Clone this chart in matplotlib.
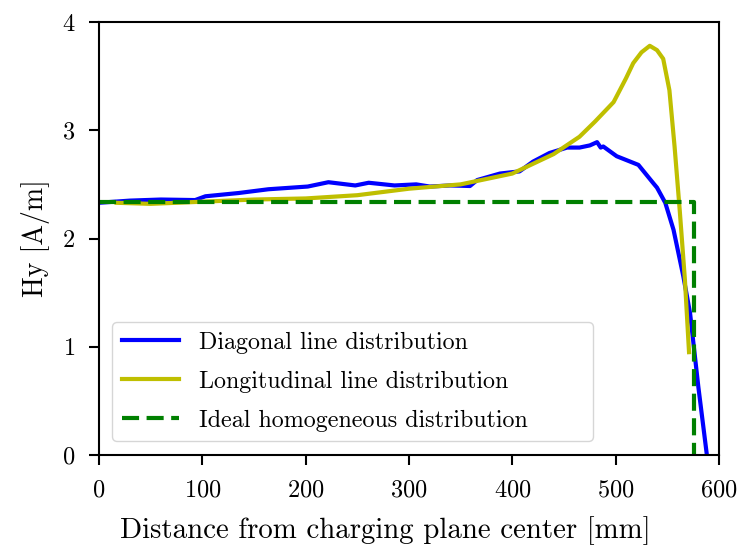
import numpy as np
import matplotlib
matplotlib.use("Agg")
import matplotlib.pyplot as plt

# Diagonal line distribution (blue)
diag_x = [0, 30, 60, 93, 103, 135, 164, 202, 222, 248, 261, 286, 307, 320, 340, 359,
          366, 388, 407, 420, 436, 453, 465, 475, 482, 485.5, 488, 501, 522, 536.5,
          540, 548, 556, 565.5, 572, 580, 588]
diag_y = [2.33, 2.35, 2.36, 2.355, 2.39, 2.42, 2.455, 2.48, 2.52, 2.49, 2.515, 2.49,
          2.50, 2.48, 2.49, 2.485, 2.54, 2.60, 2.62, 2.71, 2.79, 2.84, 2.84, 2.86,
          2.89, 2.84, 2.85, 2.76, 2.68, 2.51, 2.47, 2.33, 2.08, 1.65, 1.31, 0.63, 0.02]

# Longitudinal line distribution (yellow)
long_x = [17, 50, 100, 150, 200, 250, 300, 350, 400, 440, 465, 480, 498, 510, 517,
          525, 533, 540, 546, 552, 557, 562, 567, 571]
long_y = [2.33, 2.32, 2.34, 2.36, 2.37, 2.40, 2.46, 2.50, 2.60, 2.78, 2.94, 3.08,
          3.26, 3.48, 3.62, 3.72, 3.78, 3.74, 3.66, 3.37, 2.85, 2.26, 1.62, 0.95]

# Ideal homogeneous distribution (green)
ideal_x = [0, 576, 576]
ideal_y = [2.34, 2.34, 0]

plt.rcParams["font.family"] = "serif"
plt.rcParams["font.serif"] = ["cmr10"]
plt.rcParams["axes.formatter.use_mathtext"] = True
plt.rcParams["mathtext.fontset"] = "cm"

fig = plt.figure(figsize=(7.43, 5.47), dpi=100)
ax = fig.add_axes([99 / 743, 1 - 455 / 547, 620 / 743, 433 / 547])

ax.plot(diag_x, diag_y, color="b", lw=3.0, label="Diagonal line distribution")
ax.plot(long_x, long_y, color="y", lw=3.0, label="Longitudinal line distribution")
ax.plot(ideal_x, ideal_y, color="g", lw=3.0, ls="--", dashes=(4.1, 1.8),
        label="Ideal homogeneous distribution")

ax.set_xlim(0, 600)
ax.set_ylim(0, 4)
ax.set_xticks([0, 100, 200, 300, 400, 500, 600])
ax.set_yticks([0, 1, 2, 3, 4])
ax.tick_params(labelsize=17.5, length=7.2, width=1.5, pad=10)
for s in ax.spines.values():
    s.set_linewidth(1.5)

ax.set_xlabel("Distance from charging plane center [mm]", fontsize=20.8)
ax.xaxis.set_label_coords(0.462, -0.142)
ax.set_ylabel("Hy [A/m]", fontsize=20, labelpad=8)
ax.legend(loc="lower left", fontsize=17.3, bbox_to_anchor=(0.021, 0.032, 0.776, 0.3),
          mode="expand", borderaxespad=0, handlelength=2.4, labelspacing=0.7)

fig.savefig("out.png", dpi=100)
